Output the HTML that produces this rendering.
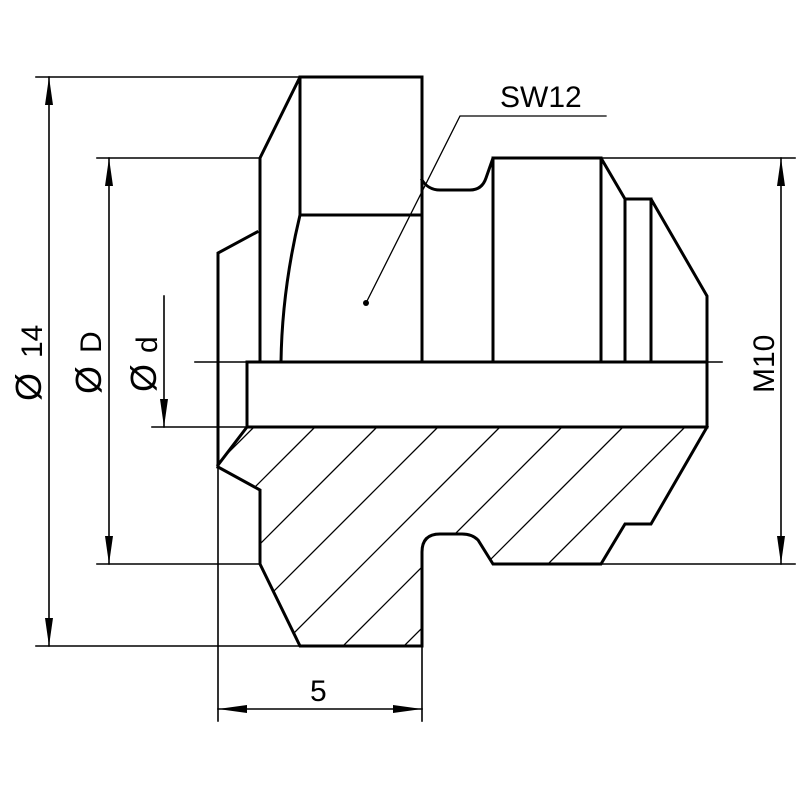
<!DOCTYPE html>
<html><head><meta charset="utf-8"><style>html,body{margin:0;padding:0;background:#fff}svg{display:block}</style></head>
<body>
<svg width="800" height="800" viewBox="0 0 800 800" xmlns="http://www.w3.org/2000/svg">
<defs>
<clipPath id="hc"><path d="M247,427 L707,427 L651,524 L625,524 L601,564 L493,564 Q485,552 478,540 Q472,534 462,534 L440,534 Q422,534 422,552 L422,646 L300,646 L260,564 L260,490 L218,467 Z"/></clipPath>
</defs>
<rect width="800" height="800" fill="#fff"/>
<g fill="none" stroke="#000" stroke-linecap="square">
<g stroke-width="1.6">
<line x1="36" y1="77" x2="300" y2="77"/>
<line x1="36" y1="646" x2="300" y2="646"/>
<line x1="97" y1="158" x2="260" y2="158"/>
<line x1="97" y1="564" x2="260" y2="564"/>
<line x1="601" y1="158" x2="795" y2="158"/>
<line x1="493" y1="564" x2="795" y2="564"/>
<line x1="195" y1="362" x2="722" y2="362"/>
<line x1="152" y1="427" x2="247" y2="427"/>
<line x1="49" y1="77" x2="49" y2="646"/>
<line x1="109" y1="158" x2="109" y2="564"/>
<line x1="164" y1="296" x2="164" y2="427"/>
<line x1="781" y1="158" x2="781" y2="564"/>
<line x1="218" y1="427" x2="218" y2="721"/>
<line x1="422" y1="646" x2="422" y2="721"/>
<line x1="218" y1="709" x2="422" y2="709"/>
<polyline points="366,303 460,116 606,116" stroke-width="1.3"/>
</g>
<g clip-path="url(#hc)" stroke-width="1.3">
<line x1="315" y1="427" x2="95" y2="647"/>
<line x1="377" y1="427" x2="157" y2="647"/>
<line x1="438" y1="427" x2="218" y2="647"/>
<line x1="500" y1="427" x2="280" y2="647"/>
<line x1="562" y1="427" x2="342" y2="647"/>
<line x1="623" y1="427" x2="403" y2="647"/>
<line x1="685" y1="427" x2="465" y2="647"/>
<line x1="747" y1="427" x2="527" y2="647"/>
<line x1="254" y1="427" x2="34" y2="647"/>
</g>
<g stroke-width="3" stroke-linejoin="miter">
<polyline points="260,362 260,158 300,77 422,77 422,362"/>
<line x1="300" y1="77" x2="300" y2="215"/>
<line x1="300" y1="215" x2="422" y2="215"/>
<path d="M300,215 Q282,290 281,362"/>
<path d="M422,180 Q428,190 440,190 L470,190 Q482,190 486,178 L493,158 L601,158 L625,199 L651,199 L707,296 L707,427"/>
<line x1="493" y1="158" x2="493" y2="362"/>
<line x1="601" y1="158" x2="601" y2="362"/>
<line x1="625" y1="199" x2="625" y2="362"/>
<line x1="651" y1="199" x2="651" y2="362"/>
<polyline points="257,232 218,253 218,467"/>
<rect x="247" y="362" width="460" height="65"/>
<line x1="247" y1="427" x2="218" y2="465"/>
<path d="M218,467 L260,490 L260,564 L300,646 L422,646 L422,552 Q422,534 440,534 L462,534 Q472,534 478,540 L493,564 L601,564 L625,524 L651,524 L707,427"/>
</g>
</g>
<g fill="#000">
<polygon points="49,77 45,105 53,105"/>
<polygon points="49,646 45,618 53,618"/>
<polygon points="109,158 105,186 113,186"/>
<polygon points="109,564 105,536 113,536"/>
<polygon points="781,158 777,186 785,186"/>
<polygon points="781,564 777,536 785,536"/>
<polygon points="164,427 160,399 168,399"/>
<polygon points="218,709 247,705 247,713"/>
<polygon points="422,709 393,705 393,713"/>
<circle cx="366" cy="303" r="3"/>
</g>
<g font-family="Liberation Sans, sans-serif" font-size="30" fill="#000">
<text x="500" y="107">SW12</text>
<text x="310" y="701">5</text>
<text transform="translate(42,358) rotate(-90)">14</text>
<text transform="translate(101,353) rotate(-90)">D</text>
<text transform="translate(157,353) rotate(-90)">d</text>
<text font-size="36" transform="translate(41,401) rotate(-90)">Ø</text>
<text font-size="36" transform="translate(101,394) rotate(-90)">Ø</text>
<text font-size="36" transform="translate(156,392) rotate(-90)">Ø</text>
<text transform="translate(774,393) rotate(-90)">M10</text>
</g>
</svg>
</body></html>
